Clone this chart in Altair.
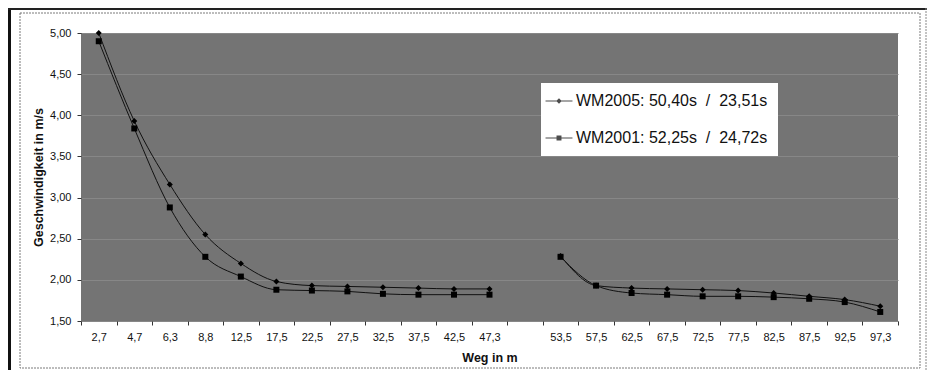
import altair as alt
import pandas as pd

categories = ["2,7", "4,7", "6,3", "8,8", "12,5", "17,5", "22,5", "27,5", "32,5",
              "37,5", "42,5", "47,3", " ", "53,5", "57,5", "62,5", "67,5", "72,5",
              "77,5", "82,5", "87,5", "92,5", "97,3"]
wm2005 = [5.00, 3.93, 3.16, 2.55, 2.20, 1.98, 1.93, 1.92, 1.91, 1.90, 1.89, 1.89,
          None, 2.29, 1.93, 1.90, 1.89, 1.88, 1.87, 1.84, 1.80, 1.76, 1.68]
wm2001 = [4.90, 3.84, 2.88, 2.28, 2.04, 1.88, 1.87, 1.86, 1.83, 1.82, 1.82, 1.82,
          None, 2.28, 1.93, 1.84, 1.82, 1.80, 1.80, 1.79, 1.77, 1.73, 1.61]
series_names = ["WM2005: 50,40s \u00a0/\u00a0 23,51s", "WM2001: 52,25s \u00a0/\u00a0 24,72s"]
y_ticks = [1.5, 2.0, 2.5, 3.0, 3.5, 4.0, 4.5, 5.0]

rows = []
for name, vals in zip(series_names, [wm2005, wm2001]):
    seg = "a"
    for c, v in zip(categories, vals):
        if v is None:
            seg = "b"
            continue
        rows.append({"Weg": c, "v": v, "Serie": name, "seg": seg})
df = pd.DataFrame(rows)

W, H = 817, 288
FONT = "Liberation Sans"

x_enc = alt.X("Weg:N", sort=categories,
              scale=alt.Scale(domain=categories, paddingInner=0, paddingOuter=0),
              axis=alt.Axis(title="Weg in m", labelAngle=0, tickBand="extent",
                            domain=False, ticks=True, tickSize=4, tickColor="#333",
                            labelPadding=6, titlePadding=9, grid=False))
y_enc = alt.Y("v:Q", scale=alt.Scale(domain=[1.5, 5.0], nice=False, zero=False),
              axis=alt.Axis(title="Geschwindigkeit in m/s", values=y_ticks,
                            labelExpr="replace(format(datum.value, '.2f'), '.', ',')",
                            domain=False, tickSize=4, tickColor="#333", labelPadding=6,
                            titlePadding=4, grid=True, gridColor="#878787",
                            gridWidth=1))

lines = alt.Chart(df).mark_line(interpolate="monotone", color="#111",
                                strokeWidth=1).encode(
    x=x_enc, y=y_enc, detail=["Serie:N", "seg:N"])

points = alt.Chart(df).mark_point(filled=True, color="black", opacity=1,
                                  size=36).encode(
    x=x_enc, y=y_enc,
    shape=alt.Shape("Serie:N", scale=alt.Scale(domain=series_names,
                                               range=["diamond", "square"]),
                    legend=None))

diamond_path = ("M-2.45,-0.1L2.45,-0.1L2.45,0.1L-2.45,0.1Z"
                "M0,-0.5L0.5,0L0,0.5L-0.5,0Z")
square_path = ("M-2.45,-0.1L2.45,-0.1L2.45,0.1L-2.45,0.1Z"
               "M-0.45,-0.45L0.45,-0.45L0.45,0.45L-0.45,0.45Z")
legend_layer = alt.Chart(df).transform_filter("false").mark_point(
    filled=True, color="black", size=121).encode(
    x=x_enc, y=y_enc,
    shape=alt.Shape("Serie:N", scale=alt.Scale(domain=series_names,
                                               range=[diamond_path, square_path]),
                    legend=alt.Legend(title=None, orient="none", legendX=460,
                                      legendY=50, fillColor="white", padding=10,
                                      rowPadding=21, labelFontSize=16,
                                      labelFont=FONT, labelColor="#111",
                                      symbolSize=121, symbolStrokeWidth=0,
                                      symbolFillColor="black",
                                      labelOffset=9, labelLimit=400)))

one = alt.Data(values=[{"k": 1}])
frame_inner = alt.Chart(one).mark_rect(filled=False, stroke="#7a7a7a",
                                       strokeWidth=1, strokeDash=[2, 1]).encode(
    x=alt.value(-61), x2=alt.value(839), y=alt.value(-20), y2=alt.value(335))
frame_left = alt.Chart(one).mark_rect(color="#111").encode(
    x=alt.value(-73), x2=alt.value(-70), y=alt.value(-25), y2=alt.value(340))
frame_top = alt.Chart(one).mark_rect(color="#222").encode(
    x=alt.value(-73), x2=alt.value(846), y=alt.value(-25), y2=alt.value(-23))
frame_right = alt.Chart(one).mark_rule(color="#888", strokeDash=[2, 1]).encode(
    x=alt.value(845), y=alt.value(-25), y2=alt.value(340))

chart = alt.layer(frame_inner, frame_left, frame_top, frame_right,
                  lines, points, legend_layer).resolve_scale(
    shape="independent").properties(
    width=W, height=H, background="white",
    autosize=alt.AutoSizeParams(type="none"),
    padding={"left": 73, "top": 25, "right": 30, "bottom": 49}
).configure_view(fill="#747474", stroke=None).configure_axis(
    labelFont=FONT, titleFont=FONT, labelFontSize=11, titleFontSize=12.5,
    titleFontWeight="bold", labelColor="#111", titleColor="#111")

chart.save("out.html", embed_options={"renderer": "svg", "actions": False})
